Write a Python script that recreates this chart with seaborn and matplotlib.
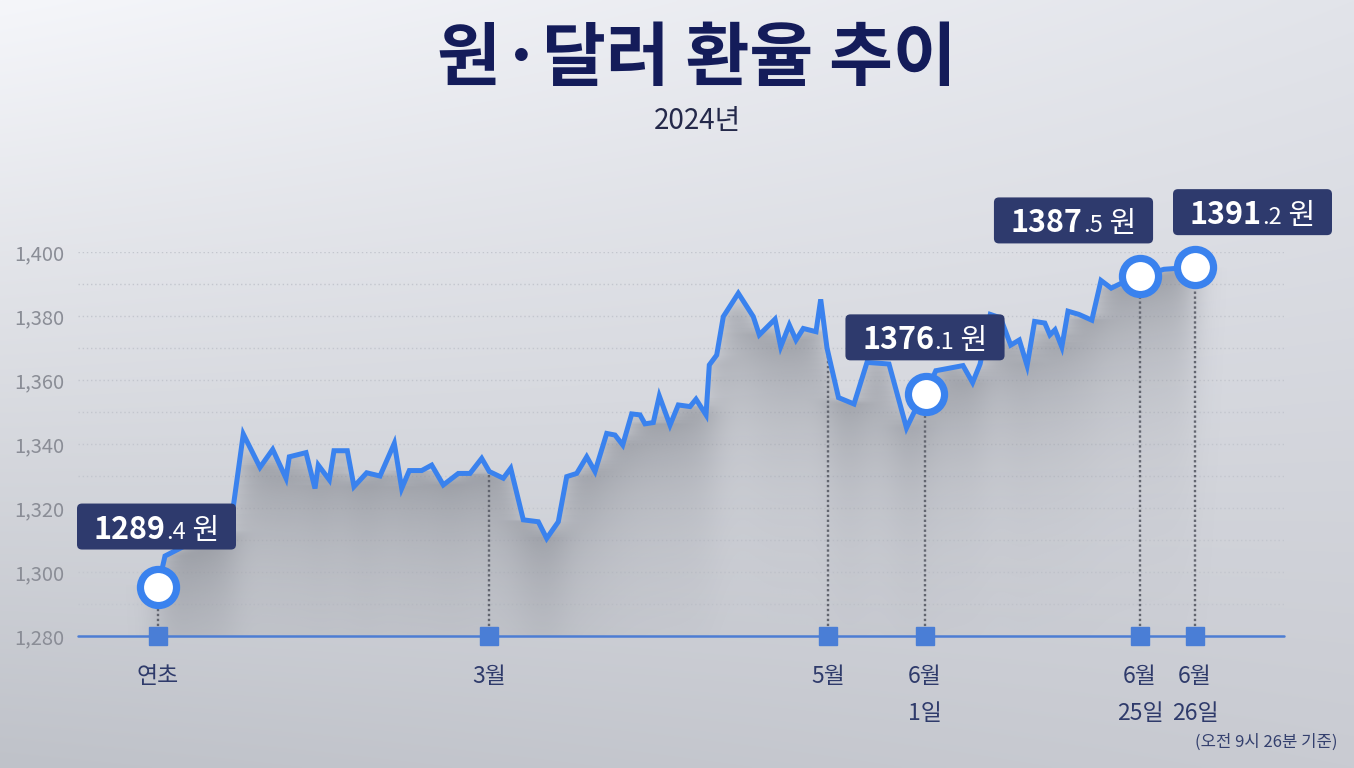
import numpy as np
import pandas as pd
import matplotlib
matplotlib.use("Agg")
import matplotlib.pyplot as plt
import seaborn as sns
from matplotlib.patches import FancyBboxPatch
from matplotlib.transforms import IdentityTransform
from matplotlib.colors import to_rgb

# ---------------- data ----------------
day_pos = [158, 165, 190, 215, 230, 243.3, 260, 272.7, 286, 289.3, 306, 315, 318.3, 329.3, 334,
           347.3, 354, 366.7, 380, 394.3, 401.7, 409.3, 421.7, 431.7, 443.3, 458.3, 470, 481.7,
           489.3, 503.3, 510.7, 523.3, 538.3, 546.7, 558.3, 566.7, 576.7, 586.7, 595, 606.7, 615,
           622.7, 631.7, 640, 645, 653.3, 659.3, 670, 678.3, 690, 696, 706, 709.3, 716.7, 723.3,
           738.3, 753.3, 759.3, 775, 780.7, 789.3, 796, 803.3, 816, 820.7, 827, 838.5, 854, 867,
           889, 906.5, 915, 925.6, 935.8, 963, 972.6, 980.1, 990.3, 1000.5, 1010.7, 1019.3,
           1027.1, 1034.6, 1044.8, 1049.9, 1055, 1061.8, 1068, 1078.9, 1091.8, 1101, 1111.2,
           1119.7, 1140.2, 1164, 1194.7]
rate = [1295.3, 1305, 1309, 1311, 1313, 1343.1, 1332.7, 1338.3, 1329.3, 1336.0, 1337.3, 1326.1,
        1333.4, 1328.8, 1337.9, 1337.9, 1326.7, 1331.0, 1330.0, 1340.2, 1326.1, 1331.7, 1331.7,
        1333.4, 1327.2, 1330.8, 1330.8, 1335.5, 1331.4, 1329.3, 1332.4, 1316.3, 1315.7, 1310.5,
        1315.7, 1329.8, 1330.8, 1336.0, 1331.4, 1343.3, 1342.8, 1339.7, 1349.4, 1349.1, 1346.3,
        1346.7, 1355.0, 1345.9, 1352.2, 1351.7, 1354.0, 1349.1, 1364.7, 1367.8, 1379.8, 1387.1,
        1379.8, 1374.1, 1379.0, 1370.4, 1377.2, 1372.5, 1376.1, 1375.1, 1385.2, 1370, 1354.5,
        1352.5, 1365.5, 1365, 1345, 1350.5, 1355.7, 1362.9, 1364.5, 1359.2, 1365.0, 1380.5,
        1379.4, 1370.9, 1372.5, 1364.5, 1378.3, 1377.8, 1374.1, 1375.7, 1370.3, 1381.5, 1380.5,
        1378.7, 1391.1, 1388.7, 1390.0, 1392.4, 1394.6, 1395.3]

tick_pos = [158, 489, 828, 925, 1140, 1195]
tick_labels = ["연초", "3월", "5월", "6월\n1일", "6월\n25일", "6월\n26일"]

hl_pos = [158, 925.6, 1140.2, 1194.7]
hl_values = [1289.4, 1376.1, 1387.5, 1391.2]

y_ticks = [1280, 1300, 1320, 1340, 1360, 1380, 1400]
y_grid = [1290, 1300, 1310, 1320, 1330, 1340, 1350, 1360, 1370, 1380, 1390, 1400]

title = "원·달러 환율 추이"
subtitle = "2024년"
footnote = "(오전 9시 26분 기준)"

# ---------------- style ----------------
sns.set_theme(style="white")
plt.rcParams["font.family"] = ["Noto Sans CJK KR", "DejaVu Sans"]
plt.rcParams["axes.unicode_minus"] = False

W, H = 1354, 768
fig = plt.figure(figsize=(W / 100, H / 100), dpi=100)

# background gradient
bg = fig.add_axes([0, 0, 1, 1], zorder=-10)
yy, xx = np.mgrid[0:1:300j, 0:1:400j]
top_l = np.array(to_rgb("#f5f6fa"))
top_r = np.array(to_rgb("#e2e4ea"))
bot_l = np.array(to_rgb("#bfc2c9"))
bot_r = np.array(to_rgb("#c9cbd2"))
img = ((1 - yy)[..., None] * ((1 - xx)[..., None] * top_l + xx[..., None] * top_r)
       + yy[..., None] * ((1 - xx)[..., None] * bot_l + xx[..., None] * bot_r))
bg.imshow(img, extent=[0, 1, 0, 1], aspect="auto", interpolation="bilinear", origin="upper")
bg.set_axis_off()

# main axes: plot area matching reference
x0, x1 = 78, 1284
yb, yt = 636, 252
ax = fig.add_axes([x0 / W, (H - yb) / H, (x1 - x0) / W, (yb - yt) / H])
ax.set_facecolor("none")
ax.set_xlim(x0, x1)
ax.set_ylim(1280, 1400)

df = pd.DataFrame({"pos": day_pos, "rate": rate})

# shadow under the line (per-column fade, softened horizontally)
gx = np.linspace(x0, x1, 900)
gy = np.linspace(1280, 1400, 400)
GX, GY = np.meshgrid(gx, gy)
yline = np.interp(GX, day_pos, rate)
d = yline - GY
alpha = np.where(d >= 0, 0.68 * np.exp(-d / 32.0), 0.0)
alpha[(GX < day_pos[0]) | (GX > day_pos[-1])] = 0
k = np.exp(-0.5 * (np.arange(-30, 31) / 10.0) ** 2)
k /= k.sum()
alpha = np.apply_along_axis(lambda r: np.convolve(r, k, mode="same"), 1, alpha)
alpha = np.where(d >= -0.5, alpha, 0.0)
shade = np.zeros(GX.shape + (4,))
shade[..., :3] = to_rgb("#7f828a")
shade[..., 3] = alpha
ax.imshow(shade, extent=[x0, x1, 1280, 1400], origin="lower", aspect="auto",
          interpolation="bilinear", zorder=1)

# grid lines
for g in y_grid:
    ax.axhline(g, color="#c3c6ce", lw=1.0, ls=(0, (1, 2)), zorder=0.5)
ax.axhline(1280, color="#4d7dd3", lw=1.8, zorder=2, clip_on=False)

# dotted verticals from baseline to line
for p in tick_pos:
    v = np.interp(p, day_pos, rate)
    ax.plot([p, p], [1280, v], color="#62656f", lw=1.7, ls=(0, (1, 1.1)), zorder=2)

# main line
sns.lineplot(data=df, x="pos", y="rate", ax=ax, color="#3a82ee", lw=3.6, zorder=3,
             solid_joinstyle="miter")

# squares on baseline
ax.plot(tick_pos, [1280] * len(tick_pos), ls="none", marker="s", ms=13,
        color="#4a7ed6", zorder=4, clip_on=False)

# highlight circles
hl_y = np.interp(hl_pos, day_pos, rate)
ax.plot(hl_pos, hl_y, ls="none", marker="o", ms=26, mfc="white", mec="#3a82ee",
        mew=5.2, zorder=5, clip_on=False)

# axes styling
ax.set_yticks(y_ticks)
ax.set_yticklabels([f"{v:,}" for v in y_ticks])
ax.set_xticks(tick_pos)
ax.set_xticklabels(tick_labels)
ax.tick_params(axis="y", length=0, pad=10, labelsize=14.5, labelcolor="#8a8d96")
ax.tick_params(axis="x", length=0, pad=21, labelsize=16.5, labelcolor="#2f3b6b")
for lbl in ax.get_xticklabels():
    lbl.set_linespacing(1.75)
    lbl.set_ha("center")
for lbl in ax.get_yticklabels():
    lbl.set_fontweight("light")
ax.set_xlabel("")
ax.set_ylabel("")
for s in ax.spines.values():
    s.set_visible(False)

# titles (pixel coordinates, y from top)
def ftext(x, y, s, **kw):
    return fig.text(x / W, 1 - y / H, s, **kw)

ftext(697, 60, title, ha="center", va="center", fontsize=50, fontweight="bold", color="#141c5a")
ftext(697, 121, subtitle, ha="center", va="center", fontsize=20, color="#24294a")
ftext(1266, 742, footnote, ha="center", va="center", fontsize=12, color="#34406e")

# value callouts
renderer = fig.canvas.get_renderer()
offsets = [(-1.5, -60.5), (-0.6, -56.4), (-66.7, -55.9), (57.8, -54.9)]
for p, yv, val, (dx, dy) in zip(hl_pos, hl_y, hl_values, offsets):
    px, py = ax.transData.transform((p, yv))  # display coords, origin bottom-left
    cx, cy = px + dx, py - dy
    ip, dp = f"{val:.1f}".split(".")
    pieces = [(ip, 22, "bold"), ("." + dp, 17, "normal"), (" 원", 21, "normal")]
    widths = []
    for s, fs, fw in pieces:
        tt = fig.text(0, 0, s, fontsize=fs, fontweight=fw)
        widths.append(tt.get_window_extent(renderer).width)
        tt.remove()
    total = sum(widths)
    bw, bh = total + 34, 46
    box = FancyBboxPatch((cx - bw / 2, cy - bh / 2), bw, bh,
                         boxstyle="round,pad=0,rounding_size=5",
                         transform=IdentityTransform(), facecolor="#2e3a6d",
                         edgecolor="none", zorder=6)
    fig.add_artist(box)
    xs = cx - total / 2
    base = cy - 12
    for (s, fs, fw), w in zip(pieces, widths):
        fig.text(xs, base, s, fontsize=fs, fontweight=fw, color="white",
                 ha="left", va="baseline", transform=IdentityTransform(), zorder=7)
        xs += w

fig.savefig("out.png", dpi=100)
